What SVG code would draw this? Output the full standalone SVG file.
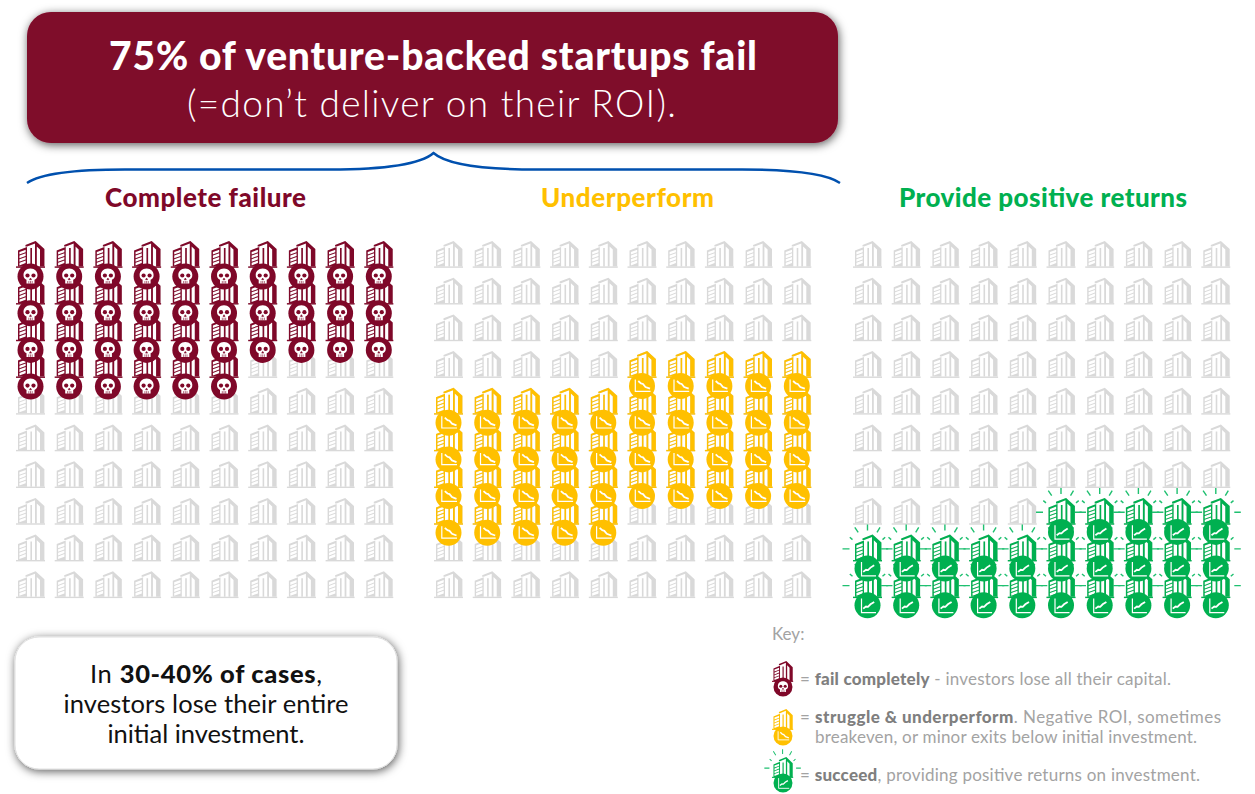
<svg xmlns="http://www.w3.org/2000/svg" width="1255" height="794" viewBox="0 0 1255 794">
<style>
text{font-family:Lato,"Liberation Sans",sans-serif}
.h{font-size:26px;font-weight:900;text-anchor:middle}
.k{font-size:17px;fill:#a3a3a3;font-weight:400}
.k tspan{font-weight:900;fill:#7f7f7f}
.c{font-size:25.500px;fill:#111;text-anchor:middle;font-weight:400}
.red{color:#7f0829}.yel{color:#ffc000}.grn{color:#00b050}.gry{color:#d9d9d9}
.w{fill:none;stroke:#fff;stroke-width:1.200}
.l{fill:none;stroke:#fff;stroke-width:1.800}
.ray{fill:none;stroke:#1fc070;stroke-width:1.400}
</style>
<defs>
<filter id="sh" x="-5%" y="-15%" width="110%" height="130%"><feDropShadow dx="1" dy="2" stdDeviation="5" flood-color="#000" flood-opacity=".65"/></filter>
<g id="b" fill="currentColor">
<path d="M0 25.400H29V26.800H0Z"/>
<path fill-rule="evenodd" d="M2 9.500L11 6V25.500H2ZM3.400 11V13.600L9.700 11.300V8.700ZM3.400 14.600V17.200L9.700 14.900V12.300ZM3.400 18.200V20.800L9.700 18.500V15.900ZM3.400 21.800V24.400L9.700 22.100V19.500Z"/>
<path d="M9.500 5.500V3.900L19.600 0L28.400 8V25.500H24V8.600L20.800 5.600V25.500H19V2.400L11 5.500ZM14.400 7H16V25.500H14.400Z"/>
</g>
<g id="sk"><circle cx="14.500" cy="0" r="13" fill="currentColor"/><path fill="#fff" d="M14.500-8C10-8 7.500-5 7.500-1.500C7.500 1 8.500 2.500 10.500 3.300V7H18.500V3.300C20.500 2.500 21.500 1 21.500-1.500C21.500-5 19-8 14.500-8Z"/><circle cx="11.500" cy="-1" r="2.100" fill="currentColor"/><circle cx="17.500" cy="-1" r="2.100" fill="currentColor"/><path d="M14.500 1.500L13.500 3.200H15.500Z M12.800 4.500V7 M14.500 4.500V7 M16.200 4.500V7" stroke="currentColor" stroke-width=".6" fill="currentColor"/></g>
<g id="dn"><circle cx="14.500" cy="0" r="13" fill="currentColor"/><path class="w" d="M7.800-6.500V5.300H23"/><path class="l" d="M10.800-5L13.500-2.600L15.500-2L18 1L22.500 2.700"/></g>
<g id="up"><circle cx="14.500" cy="0" r="13" fill="currentColor"/><path class="w" d="M8.500-6.700V7.300H23"/><path class="l" d="M10.200 3.300L13 1.200L15 1.500L17.500-1L21.200-3.300"/></g>
<g id="rays" class="ray"><path d="M-10.500 14.300H-3.500M-3.200 2.700L-.5 5M1.800-7.300L5.200-2.300M14.500-10V-4M27-7.300L24-2.300M32.200 2.700L29.500 5M33 14.300H39.500"/></g>
<g id="g10"><use href="#b"/><use href="#b" x="38.700"/><use href="#b" x="77.400"/><use href="#b" x="116.100"/><use href="#b" x="154.800"/><use href="#b" x="193.500"/><use href="#b" x="232.200"/><use href="#b" x="270.900"/><use href="#b" x="309.600"/><use href="#b" x="348.300"/></g>
<g id="gp"><use href="#g10"/><use href="#g10" y="36.700"/><use href="#g10" y="73.400"/><use href="#g10" y="110.100"/><use href="#g10" y="146.800"/><use href="#g10" y="183.500"/><use href="#g10" y="220.200"/><use href="#g10" y="256.900"/><use href="#g10" y="293.600"/><use href="#g10" y="330.300"/></g>
<g id="b5"><use href="#b"/><use href="#b" x="38.700"/><use href="#b" x="77.400"/><use href="#b" x="116.100"/><use href="#b" x="154.800"/></g>
<g id="s5"><use href="#sk"/><use href="#sk" x="38.700"/><use href="#sk" x="77.400"/><use href="#sk" x="116.100"/><use href="#sk" x="154.800"/></g>
<g id="d5"><use href="#dn"/><use href="#dn" x="38.700"/><use href="#dn" x="77.400"/><use href="#dn" x="116.100"/><use href="#dn" x="154.800"/></g>
<g id="u5"><use href="#up"/><use href="#up" x="38.700"/><use href="#up" x="77.400"/><use href="#up" x="116.100"/><use href="#up" x="154.800"/></g>
<g id="r5"><use href="#rays"/><use href="#rays" x="38.700"/><use href="#rays" x="77.400"/><use href="#rays" x="116.100"/><use href="#rays" x="154.800"/></g>
</defs>
<rect width="1255" height="794" fill="#fff"/>
<g id="title">
<rect x="27" y="12" width="811" height="131" rx="24" fill="#7f0829" filter="url(#sh)"/>
<text x="433" y="70" font-size="39" font-weight="900" fill="#fff" text-anchor="middle" textLength="648">75% of venture-backed startups fail</text>
<text x="431.500" y="117" font-size="37" font-weight="300" fill="#fff" text-anchor="middle" textLength="489">(=don’t deliver on their ROI).</text>
</g>
<g id="connectors">
<path d="M27 183C40 174 70 169.500 125 169.500H330C385 169.500 420 165 433.500 153C447 165 482 169.500 537 169.500H742C797 169.500 827 174 840 183" fill="none" stroke="#0050ae" stroke-width="2.400"/>
</g>
<g id="headings">
<text class="h" x="205.500" y="207" fill="#7f0829" textLength="201">Complete failure</text>
<text class="h" x="627.500" y="207" fill="#ffc000" textLength="173">Underperform</text>
<text class="h" x="1043" y="207" fill="#00b050" textLength="288">Provide positive returns</text>
</g>
<g id="panel-fail">
<use href="#gp" class="gry" x="16" y="241"/>
<g class="red">
<use href="#b5" x="16" y="241"/><use href="#b5" x="209.500" y="241"/>
<use href="#b5" x="16" y="277.700"/><use href="#b5" x="209.500" y="277.700"/>
<use href="#b5" x="16" y="314.400"/><use href="#b5" x="209.500" y="314.400"/>
<use href="#b5" x="16" y="351.100"/><use href="#b" x="209.500" y="351.100"/>
<use href="#s5" x="16" y="276.500"/><use href="#s5" x="209.500" y="276.500"/>
<use href="#s5" x="16" y="313.200"/><use href="#s5" x="209.500" y="313.200"/>
<use href="#s5" x="16" y="349.900"/><use href="#s5" x="209.500" y="349.900"/>
<use href="#s5" x="16" y="386.600"/><use href="#sk" x="209.500" y="386.600"/>
</g>
</g>
<g id="panel-under">
<use href="#gp" class="gry" x="434" y="241"/>
<g class="yel">
<use href="#b5" x="627.500" y="351.100"/>
<use href="#b5" x="434" y="387.800"/><use href="#b5" x="627.500" y="387.800"/>
<use href="#b5" x="434" y="424.500"/><use href="#b5" x="627.500" y="424.500"/>
<use href="#b5" x="434" y="461.200"/><use href="#b5" x="627.500" y="461.200"/>
<use href="#b5" x="434" y="497.900"/>
<use href="#d5" x="627.500" y="386"/>
<use href="#d5" x="434" y="422.700"/><use href="#d5" x="627.500" y="422.700"/>
<use href="#d5" x="434" y="459.400"/><use href="#d5" x="627.500" y="459.400"/>
<use href="#d5" x="434" y="496.100"/><use href="#d5" x="627.500" y="496.100"/>
<use href="#d5" x="434" y="532.800"/>
</g>
</g>
<g id="panel-pos">
<use href="#gp" class="gry" x="853" y="241"/>
<use href="#r5" x="1046.500" y="497.900"/>
<use href="#r5" x="853" y="534.600"/><use href="#r5" x="1046.500" y="534.600"/>
<use href="#r5" x="853" y="571.300"/><use href="#r5" x="1046.500" y="571.300"/>
<g class="grn">
<use href="#b5" x="1046.500" y="497.900"/>
<use href="#b5" x="853" y="534.600"/><use href="#b5" x="1046.500" y="534.600"/>
<use href="#b5" x="853" y="571.300"/><use href="#b5" x="1046.500" y="571.300"/>
<use href="#u5" x="1046.500" y="531.900"/>
<use href="#u5" x="853" y="568.600"/><use href="#u5" x="1046.500" y="568.600"/>
<use href="#u5" x="853" y="605.300"/><use href="#u5" x="1046.500" y="605.300"/>
</g>
</g>
<g id="callout">
<rect x="15" y="637" width="382" height="132" rx="24" fill="#fff" stroke="#e0e0e0" filter="url(#sh)"/>
<text class="c" x="206" y="682.500" textLength="232">In <tspan font-weight="900">30-40% of cases</tspan>,</text>
<text class="c" x="206" y="712.500" textLength="285">investors lose their entire</text>
<text class="c" x="206" y="742.500" textLength="197">initial investment.</text>
</g>
<g id="key">
<text class="k" x="772" y="640">Key:</text>
<g class="red"><use href="#b" transform="translate(772 661) scale(.73 .78)"/><use href="#sk" transform="translate(772.400 687) scale(.73)"/></g>
<text class="k" x="800" y="685" textLength="371">= <tspan>fail completely</tspan> - investors lose all their capital.</text>
<g class="yel"><use href="#b" transform="translate(772 709) scale(.73 .78)"/><use href="#dn" transform="translate(772.400 736) scale(.73)"/></g>
<text class="k" x="800" y="723" textLength="421">= <tspan>struggle &amp; underperform</tspan>. Negative ROI, sometimes</text>
<text class="k" x="815" y="743" textLength="382">breakeven, or minor exits below initial investment.</text>
<g class="grn"><use href="#rays" transform="translate(772 757) scale(.73 .78)"/><use href="#b" transform="translate(772 757) scale(.73 .78)"/><use href="#up" transform="translate(772.400 783) scale(.73)"/></g>
<text class="k" x="800" y="781" textLength="400">= <tspan>succeed</tspan>, providing positive returns on investment.</text>
</g>
</svg>
